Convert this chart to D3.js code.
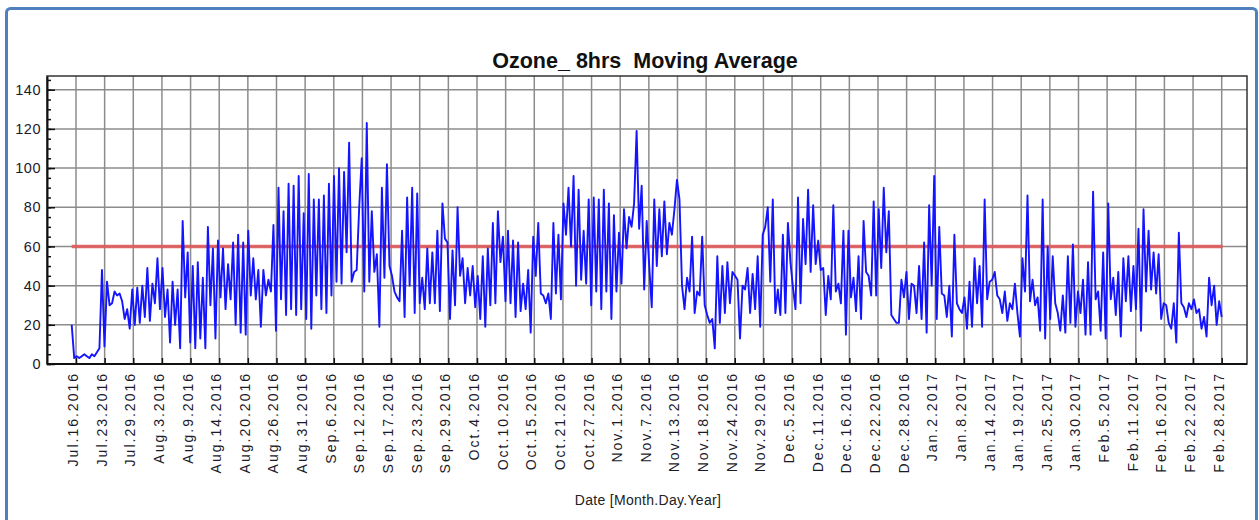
<!DOCTYPE html>
<html>
<head>
<meta charset="utf-8">
<script src="https://cdn.jsdelivr.net/npm/d3@7"></script>
<style>
  html, body { margin: 0; padding: 0; background: #fff; }
  svg { display: block; font-family: "Liberation Sans", Arial, sans-serif; }
</style>
</head>
<body>
<svg id="chart" width="1259" height="520"></svg>
<script>
const chartTitle = 'Ozone_ 8hrs  Moving Average'
const xAxisTitle = 'Date [Month.Day.Year]'

const dateLabels = [
  'Jul.16.2016', 'Jul.23.2016', 'Jul.29.2016', 'Aug.3.2016', 'Aug.9.2016', 'Aug.14.2016',
  'Aug.20.2016', 'Aug.26.2016', 'Aug.31.2016', 'Sep.6.2016', 'Sep.12.2016', 'Sep.17.2016',
  'Sep.23.2016', 'Sep.29.2016', 'Oct.4.2016', 'Oct.10.2016', 'Oct.15.2016', 'Oct.21.2016',
  'Oct.27.2016', 'Nov.1.2016', 'Nov.7.2016', 'Nov.13.2016', 'Nov.18.2016', 'Nov.24.2016',
  'Nov.29.2016', 'Dec.5.2016', 'Dec.11.2016', 'Dec.16.2016', 'Dec.22.2016', 'Dec.28.2016',
  'Jan.2.2017', 'Jan.8.2017', 'Jan.14.2017', 'Jan.19.2017', 'Jan.25.2017', 'Jan.30.2017',
  'Feb.5.2017', 'Feb.11.2017', 'Feb.16.2017', 'Feb.22.2017', 'Feb.28.2017'
]

const yTicks = [0, 20, 40, 60, 80, 100, 120, 140]
const limitValue = 60

// 8 hr moving average, every 12 hours
const ozoneJul15toAug11 = [20, 3, 4, 3, 4, 5, 4, 3, 5, 4, 6, 8, 48, 9, 42, 30, 31, 37, 35, 36,
  32, 23, 28, 18, 38, 20, 39, 21, 40, 24, 49, 22, 41, 31, 54, 28, 49, 24, 38, 11,
  42, 20, 38, 8, 73, 34, 57, 11, 50, 8, 52, 13, 44, 8, 70]
const ozoneAug11toSep8 = [30, 59, 13, 63, 34, 59, 28, 51, 33, 62, 20, 66, 16, 62, 15, 68, 35, 54, 33, 48,
  19, 48, 35, 43, 37, 71, 17, 90, 33, 78, 25, 92, 28, 91, 25, 96, 28, 77, 23, 97,
  18, 84, 35, 84, 28, 86, 26, 92, 35, 96, 42, 100, 41, 98, 57, 113]
const ozoneSep8toOct6 = [42, 47, 48, 80, 105, 37, 123, 42, 78, 47, 56, 19, 90, 44, 102, 50, 45, 37, 34, 32,
  68, 24, 85, 40, 90, 26, 87, 31, 44, 28, 59, 31, 57, 31, 68, 27, 82, 64, 62, 23,
  58, 30, 80, 45, 54, 31, 49, 35, 50, 29, 45, 23, 55, 19, 59]
const ozoneOct6toNov3 = [30, 72, 31, 78, 52, 65, 32, 68, 31, 63, 24, 62, 27, 41, 28, 48, 16, 65, 45, 72,
  36, 35, 31, 36, 23, 72, 36, 66, 33, 82, 66, 90, 60, 96, 40, 89, 43, 68, 41, 84,
  30, 85, 37, 84, 28, 89, 37, 82, 23, 76, 37, 67, 41, 79, 59, 75]
const ozoneNov3toNov30 = [70, 82, 119, 69, 91, 38, 73, 50, 29, 84, 50, 79, 55, 83, 56, 72, 66, 79, 94, 84,
  40, 28, 44, 37, 65, 26, 37, 35, 65, 30, 25, 21, 23, 8, 55, 21, 50, 26, 52, 31,
  47, 45, 43, 13, 40, 38, 49, 26, 46, 28, 55, 19, 66, 70, 80]
const ozoneNov30toDec28 = [42, 84, 26, 38, 25, 66, 26, 72, 52, 39, 28, 85, 31, 74, 51, 89, 47, 81, 51, 63,
  48, 49, 25, 45, 33, 81, 37, 41, 31, 68, 15, 68, 34, 44, 27, 55, 23, 73, 47, 45,
  35, 83, 35, 79, 49, 90, 57, 78, 25, 23, 21, 21, 43, 34, 47, 23]
const ozoneDec28toJan25 = [41, 40, 26, 50, 23, 62, 16, 81, 40, 96, 23, 70, 36, 35, 24, 40, 14, 66, 31, 28,
  26, 34, 18, 42, 19, 54, 31, 50, 19, 84, 33, 42, 43, 47, 35, 33, 26, 37, 22, 31,
  28, 41, 26, 14, 54, 37, 86, 32, 43, 30, 34, 17, 84, 13, 60]
const ozoneJan25toFeb28 = [23, 55, 31, 26, 17, 35, 16, 55, 21, 61, 19, 37, 26, 43, 15, 52, 15, 88, 33, 37,
  17, 57, 13, 82, 33, 44, 25, 47, 14, 54, 32, 55, 27, 50, 28, 69, 17, 79, 37, 68,
  38, 57, 36, 56, 23, 31, 30, 21, 18, 31, 11, 67, 31, 29, 24, 31, 28, 33, 26, 28,
  18, 24, 14, 44, 30, 40, 20, 32, 24]

const ozone = [].concat(
  ozoneJul15toAug11, ozoneAug11toSep8, ozoneSep8toOct6, ozoneOct6toNov3,
  ozoneNov3toNov30, ozoneNov30toDec28, ozoneDec28toJan25, ozoneJan25toFeb28
)

const plot = { left: 47, right: 1247, top: 76, bottom: 364 }
const firstTickX = 76
const lastTickX = 1221.7
const dataStartTick = -0.15 // series begins a little before the first date label

const svg = d3.select('#chart')

// outer frame
svg.append('rect')
  .attr('x', 6.5)
  .attr('y', 8.5)
  .attr('width', 1250)
  .attr('height', 540)
  .attr('rx', 4)
  .attr('fill', 'none')
  .attr('stroke', '#4f7fbf')
  .attr('stroke-width', 3)

const xTick = d3.scaleLinear()
  .domain([0, dateLabels.length - 1])
  .range([firstTickX, lastTickX])

const x = d3.scaleLinear()
  .domain([0, ozone.length - 1])
  .range([xTick(dataStartTick), xTick(dateLabels.length - 1)])

const y = d3.scaleLinear()
  .domain([0, 147])
  .range([plot.bottom, plot.top])

const tickIdx = d3.range(dateLabels.length)

// grid
svg.append('g')
  .selectAll('line')
  .data(yTicks.filter(d => d > 0))
  .join('line')
  .attr('x1', plot.left)
  .attr('x2', plot.right)
  .attr('y1', d => y(d))
  .attr('y2', d => y(d))
  .attr('stroke', '#8c8c8c')
  .attr('stroke-width', 1.5)

svg.append('g')
  .selectAll('line')
  .data(tickIdx)
  .join('line')
  .attr('x1', d => xTick(d))
  .attr('x2', d => xTick(d))
  .attr('y1', plot.top)
  .attr('y2', plot.bottom)
  .attr('stroke', '#8c8c8c')
  .attr('stroke-width', 1.5)

// plot border
svg.append('rect')
  .attr('x', plot.left)
  .attr('y', plot.top)
  .attr('width', plot.right - plot.left)
  .attr('height', plot.bottom - plot.top)
  .attr('fill', 'none')
  .attr('stroke', '#333')
  .attr('stroke-width', 1.5)

// y axis: minor ticks inside, labels outside
svg.append('g')
  .attr('transform', `translate(${plot.left},0)`)
  .call(d3.axisRight(y).tickValues(d3.range(0, 146, 5)).tickSize(4).tickFormat(''))
  .call(g => g.select('.domain').remove())
  .call(g => g.selectAll('line').attr('stroke', '#111').attr('stroke-width', 1.5))

svg.append('g')
  .attr('transform', `translate(${plot.left},0)`)
  .call(d3.axisRight(y).tickValues(yTicks).tickSize(8).tickFormat(''))
  .call(g => g.select('.domain').remove())
  .call(g => g.selectAll('line').attr('stroke', '#111').attr('stroke-width', 1.5))

svg.append('g')
  .attr('transform', `translate(${plot.left},0)`)
  .call(d3.axisLeft(y).tickValues(yTicks).tickSize(0).tickPadding(6))
  .call(g => g.select('.domain').attr('stroke', '#111').attr('stroke-width', 2))
  .call(g => g.selectAll('text')
    .attr('font-family', '"Liberation Sans", Arial, sans-serif')
    .attr('font-size', 14.5)
    .attr('letter-spacing', 0.5)
    .attr('fill', '#1a1a2a'))

// x axis: short ticks inside, rotated date labels below
svg.append('g')
  .attr('transform', `translate(0,${plot.bottom})`)
  .call(d3.axisTop(xTick).tickValues(tickIdx).tickSize(6).tickFormat(''))
  .call(g => g.select('.domain').remove())
  .call(g => g.selectAll('line').attr('stroke', '#111').attr('stroke-width', 1.5))

svg.append('line')
  .attr('x1', plot.left)
  .attr('x2', plot.right)
  .attr('y1', plot.bottom)
  .attr('y2', plot.bottom)
  .attr('stroke', '#111')
  .attr('stroke-width', 2)

svg.append('g')
  .selectAll('text')
  .data(tickIdx)
  .join('text')
  .attr('transform', d => `translate(${xTick(d)},${plot.bottom + 8}) rotate(-90)`)
  .attr('dy', 2)
  .attr('text-anchor', 'end')
  .attr('font-size', 14)
  .attr('letter-spacing', 2)
  .attr('fill', '#1a1a2a')
  .text(d => dateLabels[d])

// limit line
svg.append('line')
  .attr('x1', x(0))
  .attr('x2', x(ozone.length - 1) + 1)
  .attr('y1', y(limitValue))
  .attr('y2', y(limitValue))
  .attr('stroke', '#e05a5a')
  .attr('stroke-opacity', 0.9)
  .attr('stroke-width', 3.5)

// series
const line = d3.line()
  .x((d, i) => x(i))
  .y(d => y(d))

svg.append('path')
  .datum(ozone)
  .attr('d', line)
  .attr('fill', 'none')
  .attr('stroke', '#1414ff')
  .attr('stroke-width', 1.9)
  .attr('stroke-linejoin', 'round')

// titles
svg.append('text')
  .attr('x', (plot.left + plot.right) / 2 - 2)
  .attr('y', 68)
  .attr('text-anchor', 'middle')
  .attr('font-size', 21.5)
  .attr('font-weight', 'bold')
  .attr('fill', '#111')
  .style('white-space', 'pre')
  .text(chartTitle)

svg.append('text')
  .attr('x', (plot.left + plot.right) / 2 + 1)
  .attr('y', 505)
  .attr('text-anchor', 'middle')
  .attr('font-size', 14)
  .attr('letter-spacing', 0.3)
  .attr('fill', '#222')
  .text(xAxisTitle)
</script>
</body>
</html>
